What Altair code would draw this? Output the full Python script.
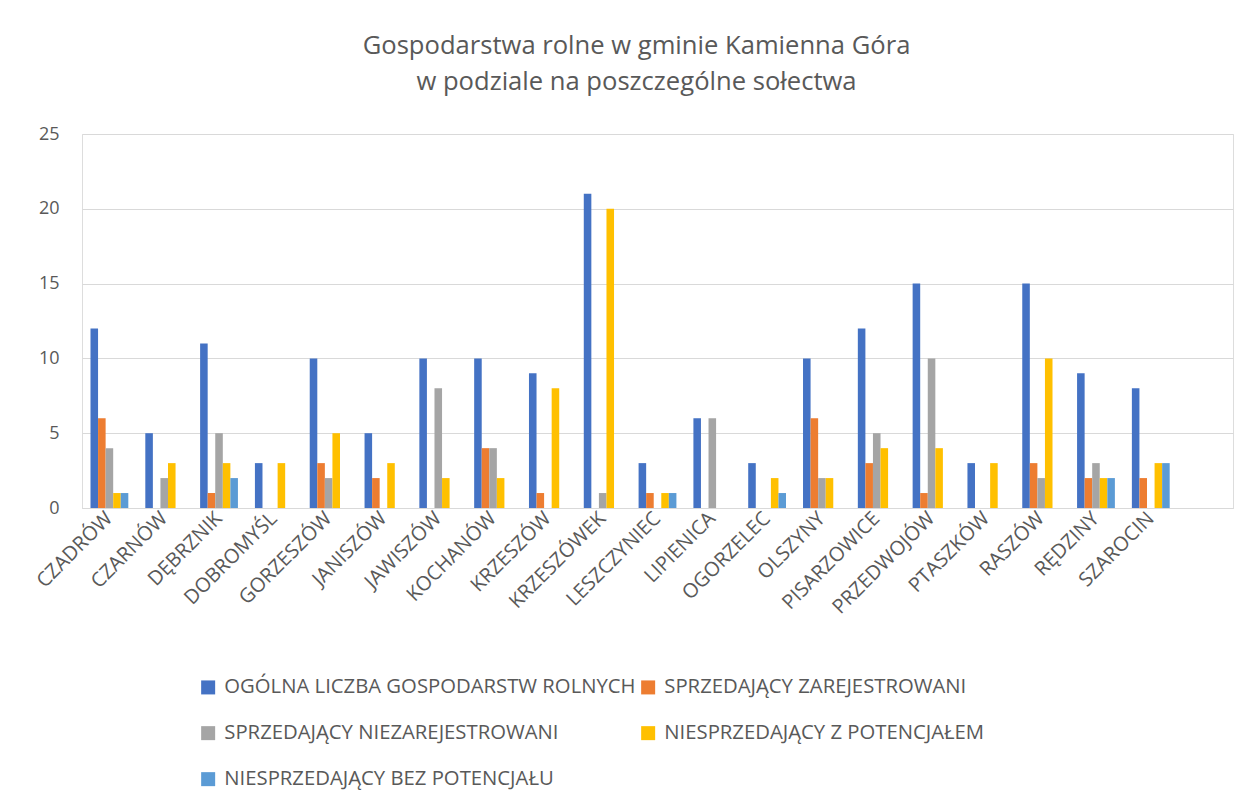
import altair as alt
import pandas as pd

categories = ["CZADRÓW", "CZARNÓW", "DĘBRZNIK", "DOBROMYŚL", "GORZESZÓW", "JANISZÓW",
              "JAWISZÓW", "KOCHANÓW", "KRZESZÓW", "KRZESZÓWEK", "LESZCZYNIEC", "LIPIENICA",
              "OGORZELEC", "OLSZYNY", "PISARZOWICE", "PRZEDWOJÓW", "PTASZKÓW", "RASZÓW",
              "RĘDZINY", "SZAROCIN"]
empty_slot = [" "]

series = ["OGÓLNA LICZBA GOSPODARSTW ROLNYCH", "SPRZEDAJĄCY ZAREJESTROWANI",
          "SPRZEDAJĄCY NIEZAREJESTROWANI", "NIESPRZEDAJĄCY Z POTENCJAŁEM",
          "NIESPRZEDAJĄCY BEZ POTENCJAŁU"]

ogolna = [12, 5, 11, 3, 10, 5, 10, 10, 9, 21, 3, 6, 3, 10, 12, 15, 3, 15, 9, 8]
zarejestrowani = [6, 0, 1, 0, 3, 2, 0, 4, 1, 0, 1, 0, 0, 6, 3, 1, 0, 3, 2, 2]
niezarejestrowani = [4, 2, 5, 0, 2, 0, 8, 4, 0, 1, 0, 6, 0, 2, 5, 10, 0, 2, 3, 0]
z_potencjalem = [1, 3, 3, 3, 5, 3, 2, 2, 8, 20, 1, 0, 2, 2, 4, 4, 3, 10, 2, 3]
bez_potencjalu = [1, 0, 2, 0, 0, 0, 0, 0, 0, 0, 1, 0, 1, 0, 0, 0, 0, 0, 2, 3]

colors = ["#4472C4", "#ED7D31", "#A5A5A5", "#FFC000", "#5B9BD5"]
y_ticks = [0, 5, 10, 15, 20, 25]

title_lines = ["Gospodarstwa rolne w gminie Kamienna Góra", "w podziale na poszczególne sołectwa"]

rows = []
for s, vals in zip(series, [ogolna, zarejestrowani, niezarejestrowani, z_potencjalem, bez_potencjalu]):
    for c, v in zip(categories, vals):
        rows.append({"category": c, "series": s, "value": v})
df = pd.DataFrame(rows)

# legend fills column-first in Vega; reorder so it reads row by row like the original
legend_order = [0, 2, 4, 1, 3]
legend_domain = [series[i] for i in legend_order]
legend_range = [colors[i] for i in legend_order]

FONT = "Open Sans"
TXT = "#595959"

chart = alt.Chart(df).mark_bar().encode(
    x=alt.X("category:N", sort=categories,
            scale=alt.Scale(domain=categories + empty_slot, paddingInner=0.31, paddingOuter=0.155),
            axis=alt.Axis(title=None, labelAngle=-45, labelAlign="right", labelBaseline="middle",
                          labelPadding=7, labelFontSize=20, labelColor=TXT, labelFont=FONT,
                          ticks=False, domainColor="#D9D9D9", domainWidth=1, grid=False)),
    xOffset=alt.XOffset("series:N", sort=series, scale=alt.Scale(domain=series, paddingInner=0, paddingOuter=0)),
    y=alt.Y("value:Q", scale=alt.Scale(domain=[0, 25], nice=False),
            axis=alt.Axis(title=None, values=y_ticks, labelFontSize=18, labelColor=TXT, labelFont=FONT,
                          labelPadding=23, ticks=False, domain=False, gridColor="#D9D9D9", gridWidth=1)),
    color=alt.Color("series:N", scale=alt.Scale(domain=legend_domain, range=legend_range),
                    legend=alt.Legend(title=None, orient="none", legendX=116, legendY=543, columns=2,
                                      symbolType="square", symbolSize=196, symbolStrokeWidth=0,
                                      labelFontSize=20.3, labelColor=TXT, labelFont=FONT,
                                      rowPadding=25, columnPadding=2, labelOffset=6, labelLimit=700)),
).properties(
    width=1151, height=374,
    title=alt.TitleParams(text=title_lines, fontSize=25.6, font=FONT, color=TXT, fontWeight="normal",
                          anchor="middle", dx=-21, offset=29, lineHeight=36),
    autosize=alt.AutoSizeParams(type="none"),
    padding={"left": 74, "top": 126, "right": 9, "bottom": 287},
).configure_view(stroke=None).configure(background="white")

chart.save("out.html", embed_options={"renderer": "svg", "actions": False})
